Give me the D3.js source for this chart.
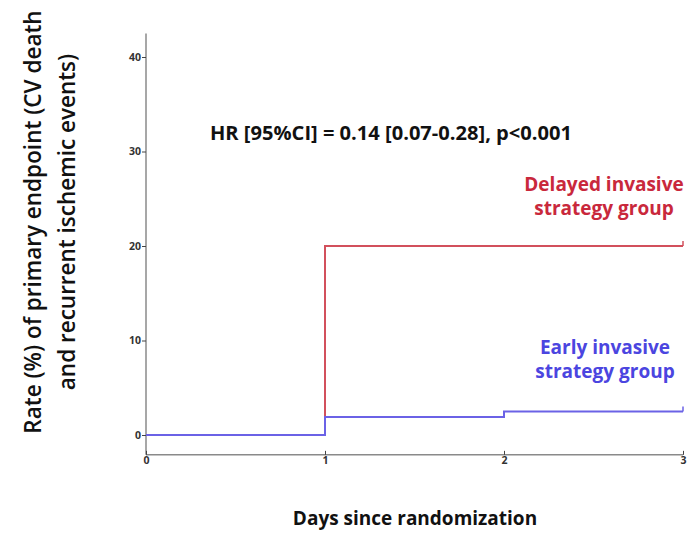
<!DOCTYPE html>
<html>
<head>
<meta charset="utf-8">
<script src="https://cdn.jsdelivr.net/npm/d3@7"></script>
<style>
  body { margin: 0; background: #fff; }
  text { font-family: "Open Sans", "Noto Sans", sans-serif; }
</style>
</head>
<body>
<div id="chart"></div>
<script>
/* KM-style step curves, days 0-3 */
const days = [0, 1, 2, 3];
const yTicks = [0, 10, 20, 30, 40];
const delayedDays = [0, 1, 3];
const delayedRate = [0, 20, 20];
const earlyDays = [0, 1, 2, 3];
const earlyRate = [0, 1.9, 2.5, 2.5];
const hrText = 'HR [95%CI] = 0.14 [0.07-0.28], p<0.001';

const width = 693
const height = 533
const red = '#d2505c'
const blue = '#6b62e6'

const svg = d3.select('#chart')
  .append('svg')
  .attr('width', width)
  .attr('height', height)

const x = d3.scaleLinear().domain([0, 3]).range([146, 683])
const y = d3.scaleLinear().domain([0, 40]).range([435, 57])

/* axes lines drawn by hand to get the SPSS look */
const axisColor = '#8a8a8a'
svg.append('line')
  .attr('x1', x(0)).attr('x2', x(0))
  .attr('y1', y(42.5)).attr('y2', y(-2.1))
  .attr('stroke', axisColor).attr('stroke-width', 1.5)
svg.append('line')
  .attr('x1', x(0)).attr('x2', x(3))
  .attr('y1', y(-2.1)).attr('y2', y(-2.1))
  .attr('stroke', axisColor).attr('stroke-width', 1.5)

const yAxis = d3.axisLeft(y).tickValues(yTicks).tickSize(4).tickPadding(1)
svg.append('g')
  .attr('transform', `translate(${x(0)},0)`)
  .call(yAxis)
  .call(g => g.select('.domain').remove())
  .call(g => g.selectAll('line').attr('stroke', '#444'))
  .call(g => g.selectAll('text').attr('font-size', 10.5).attr('font-weight', 'bold').attr('fill', '#333'))

const xAxis = d3.axisBottom(x).tickValues(days).tickFormat(d3.format('d')).tickSize(4).tickPadding(2)
svg.append('g')
  .attr('transform', `translate(0,${y(-2.1) - 4})`)
  .call(xAxis)
  .call(g => g.select('.domain').remove())
  .call(g => g.selectAll('line').attr('stroke', '#444'))
  .call(g => g.selectAll('text').attr('font-size', 10.5).attr('font-weight', 'bold').attr('fill', '#333'))

/* step curves */
const line = d3.line()
  .x(d => x(d[0]))
  .y(d => y(d[1]))
  .curve(d3.curveStepAfter)

svg.append('path')
  .datum(delayedDays.map((d, i) => [d, delayedRate[i]]))
  .attr('d', line)
  .attr('fill', 'none')
  .attr('stroke', red)
  .attr('stroke-width', 2)

svg.append('path')
  .datum(earlyDays.map((d, i) => [d, earlyRate[i]]))
  .attr('d', line)
  .attr('fill', 'none')
  .attr('stroke', blue)
  .attr('stroke-width', 2)

// censor ticks at the end
svg.append('line')
  .attr('x1', x(3)).attr('x2', x(3))
  .attr('y1', y(20)).attr('y2', y(20) - 5)
  .attr('stroke', red).attr('stroke-width', 1.5)
svg.append('line')
  .attr('x1', x(3)).attr('x2', x(3))
  .attr('y1', y(2.5)).attr('y2', y(2.5) - 5)
  .attr('stroke', blue).attr('stroke-width', 1.5)

/* annotations */
svg.append('text')
  .attr('x', 210).attr('y', 140)
  .attr('font-size', 19.5).attr('font-weight', 'bold').attr('fill', '#111')
  .attr('textLength', 362).attr('lengthAdjust', 'spacingAndGlyphs')
  .text(hrText)

function groupLabel(lines, cx, y0, color) {
  svg.append('text')
    .attr('text-anchor', 'middle')
    .attr('font-size', 19).attr('font-weight', 'bold').attr('fill', color)
    .selectAll('tspan')
    .data(lines)
    .enter()
    .append('tspan')
    .attr('x', cx)
    .attr('y', (d, i) => y0 + i * 24)
    .text(d => d)
}
groupLabel(['Delayed invasive', 'strategy group'], 604, 191, '#c9283c')
groupLabel(['Early invasive', 'strategy group'], 605, 354, '#4b45e0')

/* axis titles */
svg.append('text')
  .attr('transform', 'translate(0,222) rotate(-90)')
  .attr('text-anchor', 'middle')
  .attr('font-size', 22.5).attr('font-weight', 600).attr('fill', '#111')
  .selectAll('tspan')
  .data(['Rate (%) of primary endpoint (CV death', 'and recurrent ischemic events)'])
  .enter()
  .append('tspan')
  .attr('x', 0)
  .attr('y', (d, i) => 41 + i * 34)
  .text(d => d)

svg.append('text')
  .attr('x', 415).attr('y', 525)
  .attr('text-anchor', 'middle')
  .attr('font-size', 19).attr('font-weight', 'bold').attr('fill', '#111')
  .text('Days since randomization')
</script>
</body>
</html>
